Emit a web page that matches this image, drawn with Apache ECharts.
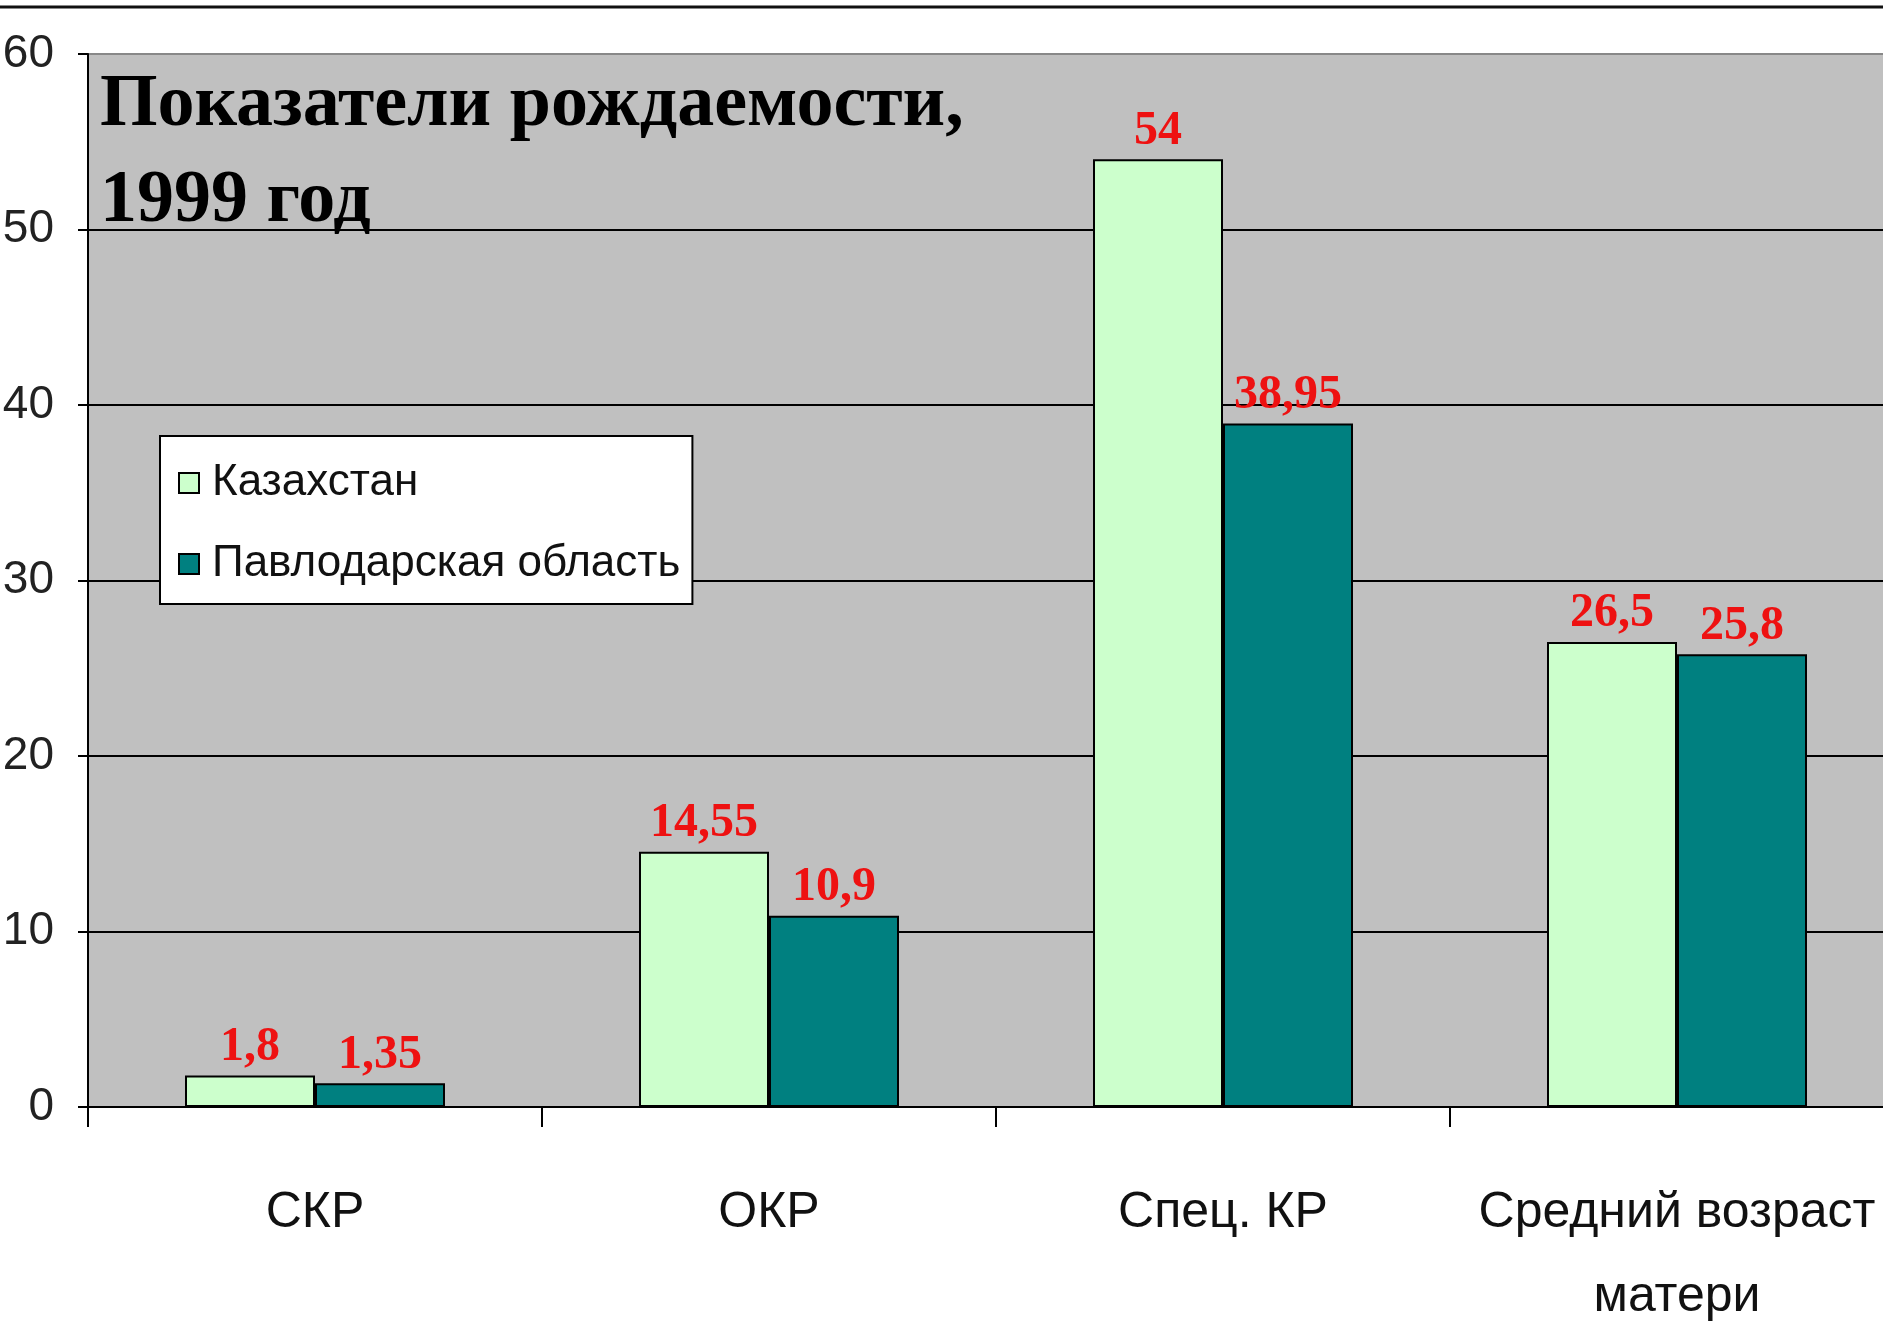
<!DOCTYPE html>
<html><head><meta charset="utf-8">
<script src="https://cdn.jsdelivr.net/npm/echarts@6/dist/echarts.min.js"></script>
<style>html,body{margin:0;padding:0;background:#fff}#c{width:1883px;height:1325px}</style>
</head><body><div id="c"></div>
<script>
const categories = ['СКР', 'ОКР', 'Спец. КР', 'Средний возраст\nматери'];
const kazakhstan = [1.8, 14.55, 54, 26.5];
const pavlodar = [1.35, 10.9, 38.95, 25.8];
const seriesNames = ['Казахстан', 'Павлодарская область'];
const yTicks = {min: 0, max: 60, interval: 10};
const titleText = 'Показатели рождаемости,\n1999 год';

const SANS = '"Liberation Sans",Arial,sans-serif';
const SERIF = '"Liberation Serif","Times New Roman",serif';
const fmt = p => String(p.value).replace('.', ',');
const labelStyle = {show: true, position: 'top', distance: 4, color: '#ee1111',
  fontFamily: SERIF, fontWeight: 'bold', fontSize: 48, formatter: fmt};

const chart = echarts.init(document.getElementById('c'));
chart.setOption({
  animation: false,
  backgroundColor: '#fff',
  title: {text: titleText, left: 100, top: 58, padding: 0,
    textStyle: {fontFamily: SERIF, fontWeight: 'bold', fontSize: 74, lineHeight: 96, color: '#000'}},
  graphic: [{type: 'line', shape: {x1: 0, y1: 7, x2: 1883, y2: 7}, style: {stroke: '#111', lineWidth: 3}}],
  legend: {orient: 'vertical', left: 160, top: 436, padding: [25, 12, 18, 18], itemGap: 37,
    backgroundColor: '#fff', borderColor: '#000', borderWidth: 2,
    itemWidth: 20, itemHeight: 20, icon: 'rect',
    textStyle: {fontFamily: SANS, fontSize: 44, color: '#111', padding: [0, 0, 0, 8]}},
  grid: {left: 88, top: 54, height: 1053, width: 1816, outerBoundsMode: 'none', containLabel: false,
    show: true, backgroundColor: '#c0c0c0', borderWidth: 0},
  xAxis: {type: 'category', data: categories, boundaryGap: true,
    axisLine: {lineStyle: {color: '#000', width: 2}},
    axisTick: {show: true, length: 20, alignWithLabel: false, lineStyle: {color: '#000', width: 2}},
    axisLabel: {interval: 0, margin: 64, fontFamily: SANS, fontSize: 50, lineHeight: 84, color: '#111', align: 'center'}},
  yAxis: {type: 'value', min: yTicks.min, max: yTicks.max, interval: yTicks.interval,
    axisLine: {show: true, lineStyle: {color: '#000', width: 2}},
    axisTick: {show: true, length: 10, lineStyle: {color: '#000', width: 2}},
    axisLabel: {margin: 34, fontFamily: SANS, fontSize: 46, color: '#222'},
    splitLine: {show: true, lineStyle: {color: ['#000','#000','#000','#000','#000','#000','#888'], width: 2}}},
  series: [
    {name: seriesNames[0], type: 'bar', data: kazakhstan, barWidth: 130, barGap: '0%',
      itemStyle: {color: '#ccffcc', borderColor: '#000', borderWidth: 2}, label: labelStyle},
    {name: seriesNames[1], type: 'bar', data: pavlodar, barWidth: 130, barGap: '0%',
      itemStyle: {color: '#008080', borderColor: '#000', borderWidth: 2}, label: labelStyle}
  ]
});
</script></body></html>
